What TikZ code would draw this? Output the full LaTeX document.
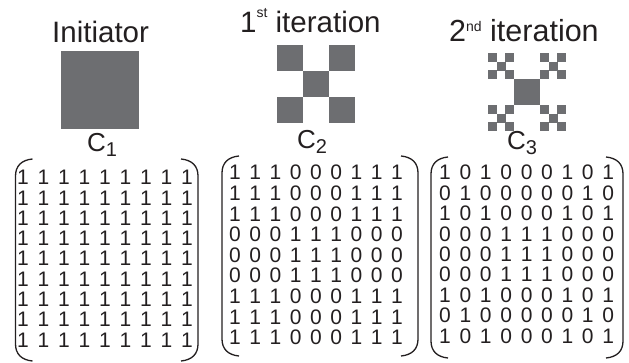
\documentclass[tikz,border=0pt]{standalone}
\usepackage{fontspec}
\setmainfont{Liberation Sans}
\definecolor{sq}{RGB}{109,110,113}
\definecolor{ink}{RGB}{35,31,32}
\tikzset{
  head/.style={inner sep=0pt, anchor=base west, text=ink, font=\fontsize{29.5}{30}\selectfont},
  lab/.style={inner sep=0pt, anchor=base west, text=ink, font=\fontsize{26}{26}\selectfont},
  digit/.style={inner sep=0pt, anchor=base, text=ink, font=\fontsize{21}{21}\selectfont},
  paren/.style={line width=1.3pt, draw=ink},
}
\newcommand{\supx}[2]{\raisebox{#1}{\fontsize{14}{14}\selectfont #2}}
\newcommand{\subx}[1]{\raisebox{-5pt}{\fontsize{20}{20}\selectfont #1}}
\begin{document}
\begin{tikzpicture}[x=1pt,y=-1pt]
\useasboundingbox (0,0) rectangle (629,363);
% headings
\node[head] (h1) at (52,43) {Initiator};
\node[head] (h2) at (240,33) {1\supx{15pt}{st} iteration};
\node[head, font=\fontsize{30.5}{31}\selectfont] (h3) at (449,42) {2\supx{10pt}{nd} iteration};
% initiator
\fill[sq] (61,51) rectangle (139,129);
% first iteration
\foreach \i/\j in {0/0,2/0,1/1,0/2,2/2}
  \fill[sq] (277+26*\i,45+26*\j) rectangle ++(26,26);
% second iteration
\foreach \row [count=\r] in {{1,0,1,0,0,0,1,0,1},{0,1,0,0,0,0,0,1,0},{1,0,1,0,0,0,1,0,1},{0,0,0,1,1,1,0,0,0},{0,0,0,1,1,1,0,0,0},{0,0,0,1,1,1,0,0,0},{1,0,1,0,0,0,1,0,1},{0,1,0,0,0,0,0,1,0},{1,0,1,0,0,0,1,0,1}}
  \foreach \d [count=\c] in \row {
    \ifnum\d=1 \fill[sq] (488+8.667*\c-8.667,53+8.667*\r-8.667) rectangle ++(8.85,8.85);\fi
  };
% labels
\node[lab] (c1) at (87,152) {C\subx{1}};
\node[lab] (c2) at (297,149) {C\subx{2}};
\node[lab] (c3) at (507,150) {C\subx{3}};
% matrix 1
\foreach \r in {1,...,9}
  \foreach \c in {1,...,9}
    \node[digit] (ma-\r-\c) at (23+20.5*\c-20.5,185+20.25*\r-20.25) {1};
% matrix 2
\foreach \row [count=\r] in {{1,1,1,0,0,0,1,1,1},{1,1,1,0,0,0,1,1,1},{1,1,1,0,0,0,1,1,1},{0,0,0,1,1,1,0,0,0},{0,0,0,1,1,1,0,0,0},{0,0,0,1,1,1,0,0,0},{1,1,1,0,0,0,1,1,1},{1,1,1,0,0,0,1,1,1},{1,1,1,0,0,0,1,1,1}}
  \foreach \d [count=\c] in \row
    \node[digit] (mb-\r-\c) at (235+20.25*\c-20.25,180+20.6*\r-20.6) {\d};
% matrix 3
\foreach \row [count=\r] in {{1,0,1,0,0,0,1,0,1},{0,1,0,0,0,0,0,1,0},{1,0,1,0,0,0,1,0,1},{0,0,0,1,1,1,0,0,0},{0,0,0,1,1,1,0,0,0},{0,0,0,1,1,1,0,0,0},{1,0,1,0,0,0,1,0,1},{0,1,0,0,0,0,0,1,0},{1,0,1,0,0,0,1,0,1}}
  \foreach \d [count=\c] in \row
    \node[digit] (mc-\r-\c) at (445+20.4*\c-20.4,180+20.4*\r-20.4) {\d};
% parentheses
\foreach \L/\R/\T/\B in {15.5/198/159/361, 222/418/156/356, 431/623/157/358} {
  \draw[paren] (\L+17,\T) .. controls (\L+6,\T+1) and (\L,\T+7) .. (\L,\T+17) -- (\L,\B-17) .. controls (\L,\B-7) and (\L+6,\B-1) .. (\L+17,\B);
  \draw[paren] (\R-17,\T) .. controls (\R-6,\T+1) and (\R,\T+7) .. (\R,\T+17) -- (\R,\B-17) .. controls (\R,\B-7) and (\R-6,\B-1) .. (\R-17,\B);
}
\end{tikzpicture}
\end{document}
